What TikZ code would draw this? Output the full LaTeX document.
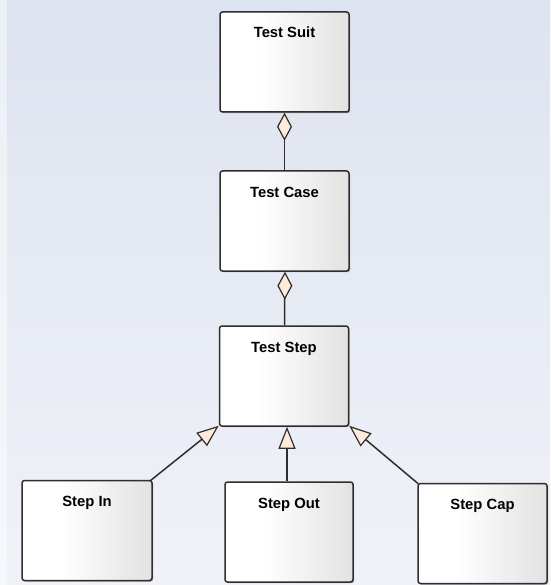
\documentclass[tikz,border=0pt]{standalone}
\usepackage{fontspec}
\setmainfont{Liberation Sans}
\usetikzlibrary{arrows.meta,shadows}

\definecolor{bgtop}{HTML}{DDE3EF}
\definecolor{bgbottom}{HTML}{F0F2F8}
\definecolor{boxgray}{HTML}{E2E2E2}
\definecolor{edge}{HTML}{2E2E2E}
\definecolor{tipfill}{HTML}{FCEBD9}

% white on the left, fading to light gray on the right
\pgfdeclarehorizontalshading{classshade}{100bp}{%
  color(0bp)=(white); color(25bp)=(white); color(40bp)=(white);
  color(75bp)=(boxgray); color(100bp)=(boxgray)}

\tikzset{
  classbox/.style={
    draw=edge, line width=1.5pt, rounded corners=2.5pt,
    shading=classshade,
    drop shadow={shadow xshift=1.2pt, shadow yshift=-1.2pt, opacity=0.3, fill=black},
    minimum width=#1, inner xsep=0pt, inner ysep=0pt,
    text height=26pt, text depth=74pt,
    font=\fontsize{14.8}{17}\selectfont\bfseries},
  classbox/.default=129pt,
  link/.style={draw=edge, line width=1.5pt},
  aggregation/.style={link, {Diamond[length=28pt, width=15pt, fill=tipfill, line width=1.2pt]}-},
  generalization/.style={link, -{Triangle[length=22pt, width=17pt, fill=tipfill, line width=1.2pt]}},
}

\begin{document}
\begin{tikzpicture}[x=1pt, y=-1pt]
  % canvas
  \shade[top color=bgtop, bottom color=bgbottom] (0,0) rectangle (550,585);
  \fill[white, opacity=0.45] (0,0) rectangle (7,585);
  \useasboundingbox (0,0) rectangle (550,585);

  % classes
  \node[classbox] (suit) at (284.5,62) {Test Suit};
  \node[classbox] (case) at (284.5,221) {Test Case};
  \node[classbox] (step) at (284,376) {Test Step};
  \node[classbox=130pt] (in)  at (87,530.5) {Step In};
  \node[classbox=128pt] (out) at (289,532) {Step Out};
  \node[classbox] (cap) at (482.5,533.5) {Step Cap};

  % aggregations
  \draw[aggregation] (suit.south) -- (case.north);
  \draw[aggregation] ([xshift=0.5pt]case.south) -- ([xshift=0.5pt]step.north);

  % generalizations
  \draw[generalization] ([xshift=-2.5pt,yshift=-1pt]in.north east) -- ([yshift=1pt]step.south west);
  \draw[generalization] ([xshift=-2pt]out.north) -- ([xshift=-2pt]out.north |- step.south);
  \draw[generalization] ([xshift=1pt,yshift=-1pt]cap.north west) -- ([yshift=1pt]step.south east);
\end{tikzpicture}
\end{document}
